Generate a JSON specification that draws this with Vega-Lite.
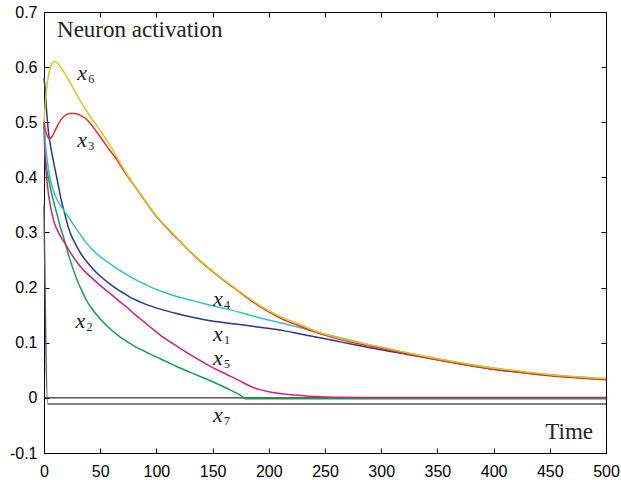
{
  "$schema": "https://vega.github.io/schema/vega-lite/v6.json",
  "width": 562,
  "height": 441,
  "autosize": "none",
  "padding": {"left": 44, "top": 12, "right": 15, "bottom": 27},
  "background": "white",
  "config": {
    "view": {"stroke": "black", "strokeWidth": 1},
    "axis": {
      "grid": false,
      "domainColor": "black",
      "tickColor": "black",
      "labelColor": "black",
      "labelFont": "Liberation Sans",
      "labelFontSize": 16,
      "tickSize": -5,
      "title": null
    }
  },
  "datasets": {
    "lines": [
      {"s":"x7","t":0,"v":0.35},{"s":"x7","t":3.3,"v":-0.011},{"s":"x7","t":500,"v":-0.011},

      {"s":"x2","t":0,"v":0.5},{"s":"x2","t":0.5,"v":0.47},{"s":"x2","t":1,"v":0.447},{"s":"x2","t":2,"v":0.422},{"s":"x2","t":3.8,"v":0.4},{"s":"x2","t":6,"v":0.378},{"s":"x2","t":9.8,"v":0.346},{"s":"x2","t":12,"v":0.33},{"s":"x2","t":14.2,"v":0.312},{"s":"x2","t":17,"v":0.294},{"s":"x2","t":19,"v":0.28},{"s":"x2","t":22,"v":0.258},{"s":"x2","t":25,"v":0.239},{"s":"x2","t":29.4,"v":0.214},{"s":"x2","t":33.5,"v":0.195},{"s":"x2","t":38.3,"v":0.175},{"s":"x2","t":44,"v":0.158},{"s":"x2","t":50,"v":0.143},{"s":"x2","t":59,"v":0.125},{"s":"x2","t":66,"v":0.113},{"s":"x2","t":74,"v":0.102},{"s":"x2","t":81,"v":0.093},{"s":"x2","t":89,"v":0.085},{"s":"x2","t":96,"v":0.078},{"s":"x2","t":103.5,"v":0.071},{"s":"x2","t":118,"v":0.057},{"s":"x2","t":133,"v":0.044},{"s":"x2","t":148,"v":0.031},{"s":"x2","t":163,"v":0.017},{"s":"x2","t":170,"v":0.01},{"s":"x2","t":176,"v":0.003},{"s":"x2","t":179,"v":-0.0015},{"s":"x2","t":500,"v":-0.0015},

      {"s":"x5","t":0,"v":0.5},{"s":"x5","t":0.5,"v":0.46},{"s":"x5","t":1,"v":0.435},{"s":"x5","t":2.3,"v":0.4},{"s":"x5","t":4,"v":0.37},{"s":"x5","t":6,"v":0.345},{"s":"x5","t":8.5,"v":0.322},{"s":"x5","t":11,"v":0.308},{"s":"x5","t":14.5,"v":0.294},{"s":"x5","t":19,"v":0.279},{"s":"x5","t":24,"v":0.262},{"s":"x5","t":29.4,"v":0.246},{"s":"x5","t":35,"v":0.232},{"s":"x5","t":44,"v":0.215},{"s":"x5","t":50,"v":0.204},{"s":"x5","t":59,"v":0.189},{"s":"x5","t":66,"v":0.177},{"s":"x5","t":74,"v":0.164},{"s":"x5","t":81,"v":0.151},{"s":"x5","t":89,"v":0.138},{"s":"x5","t":96,"v":0.126},{"s":"x5","t":103.5,"v":0.114},{"s":"x5","t":118,"v":0.094},{"s":"x5","t":133,"v":0.075},{"s":"x5","t":148,"v":0.057},{"s":"x5","t":163,"v":0.042},{"s":"x5","t":175,"v":0.03},{"s":"x5","t":183.5,"v":0.021},{"s":"x5","t":192,"v":0.015},{"s":"x5","t":200,"v":0.011},{"s":"x5","t":213,"v":0.007},{"s":"x5","t":237,"v":0.003},{"s":"x5","t":263,"v":0.001},{"s":"x5","t":300,"v":0.0008},{"s":"x5","t":500,"v":0.0008},

      {"s":"x1","t":0,"v":0.58},{"s":"x1","t":1,"v":0.56},{"s":"x1","t":2,"v":0.53},{"s":"x1","t":3.8,"v":0.485},{"s":"x1","t":6,"v":0.455},{"s":"x1","t":8.3,"v":0.43},{"s":"x1","t":10.5,"v":0.408},{"s":"x1","t":12.7,"v":0.386},{"s":"x1","t":15,"v":0.362},{"s":"x1","t":18.7,"v":0.332},{"s":"x1","t":22,"v":0.307},{"s":"x1","t":26,"v":0.287},{"s":"x1","t":29.4,"v":0.274},{"s":"x1","t":33,"v":0.261},{"s":"x1","t":36.5,"v":0.251},{"s":"x1","t":41,"v":0.24},{"s":"x1","t":44,"v":0.233},{"s":"x1","t":50,"v":0.221},{"s":"x1","t":59,"v":0.206},{"s":"x1","t":66,"v":0.196},{"s":"x1","t":74,"v":0.186},{"s":"x1","t":80,"v":0.179},{"s":"x1","t":89,"v":0.171},{"s":"x1","t":103.5,"v":0.161},{"s":"x1","t":118,"v":0.153},{"s":"x1","t":133,"v":0.146},{"s":"x1","t":148,"v":0.14},{"s":"x1","t":163,"v":0.136},{"s":"x1","t":178,"v":0.132},{"s":"x1","t":192,"v":0.128},{"s":"x1","t":213,"v":0.122},{"s":"x1","t":228,"v":0.116},{"s":"x1","t":243,"v":0.11},{"s":"x1","t":258,"v":0.104},{"s":"x1","t":272,"v":0.098},{"s":"x1","t":290,"v":0.091},{"s":"x1","t":300,"v":0.0875},{"s":"x1","t":325,"v":0.078},{"s":"x1","t":350,"v":0.069},{"s":"x1","t":375,"v":0.06},{"s":"x1","t":400,"v":0.052},{"s":"x1","t":425,"v":0.046},{"s":"x1","t":450,"v":0.041},{"s":"x1","t":475,"v":0.037},{"s":"x1","t":500,"v":0.034},

      {"s":"x4","t":0,"v":0.5},{"s":"x4","t":1,"v":0.47},{"s":"x4","t":2,"v":0.445},{"s":"x4","t":4,"v":0.415},{"s":"x4","t":6,"v":0.393},{"s":"x4","t":8.5,"v":0.375},{"s":"x4","t":12,"v":0.358},{"s":"x4","t":16,"v":0.345},{"s":"x4","t":20,"v":0.333},{"s":"x4","t":25,"v":0.318},{"s":"x4","t":31,"v":0.3},{"s":"x4","t":37,"v":0.283},{"s":"x4","t":44,"v":0.267},{"s":"x4","t":52,"v":0.253},{"s":"x4","t":59,"v":0.243},{"s":"x4","t":66,"v":0.233},{"s":"x4","t":74,"v":0.223},{"s":"x4","t":81,"v":0.215},{"s":"x4","t":89,"v":0.207},{"s":"x4","t":96,"v":0.2},{"s":"x4","t":103.5,"v":0.194},{"s":"x4","t":118,"v":0.184},{"s":"x4","t":133,"v":0.176},{"s":"x4","t":148,"v":0.168},{"s":"x4","t":163,"v":0.161},{"s":"x4","t":178,"v":0.153},{"s":"x4","t":192,"v":0.145},{"s":"x4","t":213,"v":0.135},{"s":"x4","t":228,"v":0.127},{"s":"x4","t":243,"v":0.119},{"s":"x4","t":258,"v":0.112},{"s":"x4","t":272,"v":0.105},{"s":"x4","t":290,"v":0.096},{"s":"x4","t":300,"v":0.092},{"s":"x4","t":325,"v":0.081},{"s":"x4","t":350,"v":0.071},{"s":"x4","t":375,"v":0.062},{"s":"x4","t":400,"v":0.054},{"s":"x4","t":425,"v":0.047},{"s":"x4","t":450,"v":0.042},{"s":"x4","t":475,"v":0.038},{"s":"x4","t":500,"v":0.035},

      {"s":"x3","t":0,"v":0.5},{"s":"x3","t":2,"v":0.48},{"s":"x3","t":5,"v":0.47},{"s":"x3","t":8,"v":0.477},{"s":"x3","t":12,"v":0.494},{"s":"x3","t":16,"v":0.507},{"s":"x3","t":20,"v":0.514},{"s":"x3","t":23,"v":0.516},{"s":"x3","t":27,"v":0.516},{"s":"x3","t":33,"v":0.512},{"s":"x3","t":38,"v":0.505},{"s":"x3","t":42,"v":0.496},{"s":"x3","t":47,"v":0.482},{"s":"x3","t":53,"v":0.465},{"s":"x3","t":60,"v":0.445},{"s":"x3","t":65,"v":0.432},{"s":"x3","t":70,"v":0.415},{"s":"x3","t":75,"v":0.4},{"s":"x3","t":80,"v":0.386},{"s":"x3","t":90,"v":0.357},{"s":"x3","t":100,"v":0.329},{"s":"x3","t":110,"v":0.307},{"s":"x3","t":118,"v":0.29},{"s":"x3","t":130,"v":0.265},{"s":"x3","t":139,"v":0.248},{"s":"x3","t":150,"v":0.229},{"s":"x3","t":160,"v":0.213},{"s":"x3","t":170,"v":0.198},{"s":"x3","t":183,"v":0.178},{"s":"x3","t":192,"v":0.166},{"s":"x3","t":200,"v":0.156},{"s":"x3","t":213,"v":0.142},{"s":"x3","t":228,"v":0.13},{"s":"x3","t":243,"v":0.118},{"s":"x3","t":258,"v":0.109},{"s":"x3","t":272,"v":0.102},{"s":"x3","t":290,"v":0.094},{"s":"x3","t":300,"v":0.09},{"s":"x3","t":325,"v":0.079},{"s":"x3","t":350,"v":0.069},{"s":"x3","t":375,"v":0.06},{"s":"x3","t":400,"v":0.052},{"s":"x3","t":425,"v":0.046},{"s":"x3","t":450,"v":0.04},{"s":"x3","t":475,"v":0.036},{"s":"x3","t":500,"v":0.033},

      {"s":"x6","t":0,"v":0.5},{"s":"x6","t":1,"v":0.53},{"s":"x6","t":2,"v":0.555},{"s":"x6","t":4,"v":0.585},{"s":"x6","t":6,"v":0.601},{"s":"x6","t":9,"v":0.61},{"s":"x6","t":12,"v":0.607},{"s":"x6","t":15,"v":0.599},{"s":"x6","t":19,"v":0.587},{"s":"x6","t":24,"v":0.569},{"s":"x6","t":28,"v":0.554},{"s":"x6","t":33,"v":0.536},{"s":"x6","t":38,"v":0.52},{"s":"x6","t":42,"v":0.508},{"s":"x6","t":47,"v":0.494},{"s":"x6","t":51,"v":0.482},{"s":"x6","t":55,"v":0.47},{"s":"x6","t":59,"v":0.457},{"s":"x6","t":65,"v":0.436},{"s":"x6","t":70,"v":0.418},{"s":"x6","t":75,"v":0.402},{"s":"x6","t":80,"v":0.387},{"s":"x6","t":90,"v":0.358},{"s":"x6","t":100,"v":0.33},{"s":"x6","t":110,"v":0.308},{"s":"x6","t":118,"v":0.291},{"s":"x6","t":130,"v":0.266},{"s":"x6","t":139,"v":0.249},{"s":"x6","t":150,"v":0.23},{"s":"x6","t":160,"v":0.214},{"s":"x6","t":170,"v":0.199},{"s":"x6","t":183,"v":0.18},{"s":"x6","t":192,"v":0.168},{"s":"x6","t":200,"v":0.158},{"s":"x6","t":213,"v":0.145},{"s":"x6","t":228,"v":0.133},{"s":"x6","t":243,"v":0.12},{"s":"x6","t":258,"v":0.111},{"s":"x6","t":272,"v":0.104},{"s":"x6","t":290,"v":0.096},{"s":"x6","t":300,"v":0.092},{"s":"x6","t":325,"v":0.081},{"s":"x6","t":350,"v":0.071},{"s":"x6","t":375,"v":0.062},{"s":"x6","t":400,"v":0.054},{"s":"x6","t":425,"v":0.048},{"s":"x6","t":450,"v":0.042},{"s":"x6","t":475,"v":0.038},{"s":"x6","t":500,"v":0.035}
    ],
    "labels": [
      {"t": 29.6, "v": 0.577, "sub": "6"},
      {"t": 29.6, "v": 0.456, "sub": "3"},
      {"t": 28.1, "v": 0.127, "sub": "2"},
      {"t": 150.4, "v": 0.167, "sub": "4"},
      {"t": 150.4, "v": 0.104, "sub": "1"},
      {"t": 150.4, "v": 0.059, "sub": "5"},
      {"t": 150.4, "v": -0.044, "sub": "7"}
    ],
    "titles": [
      {"t": 11.6, "v": 0.654, "txt": "Neuron activation"},
      {"t": 446, "v": -0.0743, "txt": "Time"}
    ]
  },
  "layer": [
    {
      "data": {"values": [{"z": 0}]},
      "mark": {"type": "rule", "color": "black", "strokeWidth": 1},
      "encoding": {"y": {"field": "z", "type": "quantitative", "axis": null}}
    },
    {
      "data": {"name": "lines"},
      "mark": {"type": "line", "strokeWidth": 1.5, "interpolate": "monotone"},
      "encoding": {
        "x": {"field": "t", "type": "quantitative",
              "scale": {"domain": [0, 500], "nice": false},
              "axis": {"orient": "bottom", "values": [0,50,100,150,200,250,300,350,400,450,500], "labelPadding": 15, "labelFlush": false}},
        "y": {"field": "v", "type": "quantitative",
              "scale": {"domain": [-0.1, 0.7], "nice": false, "zero": false},
              "axis": {"orient": "left", "values": [-0.1,0,0.1,0.2,0.3,0.4,0.5,0.6,0.7], "labelPadding": 12, "labelFlush": false,
                       "labelExpr": "datum.value < -0.01 ? '-0.1' : (abs(datum.value) < 0.001 ? '0' : format(datum.value, '.1f'))"}},
        "color": {"field": "s", "type": "nominal",
                  "scale": {"domain": ["x1","x2","x3","x4","x5","x6","x7"],
                            "range": ["#2c3591","#12a04a","#ee2a24","#31c3c3","#cc1e8e","#dcc51c","#525a58"]},
                  "legend": null}
      }
    },
    {
      "data": {"name": "labels"},
      "mark": {"type": "text", "font": "Liberation Serif", "fontStyle": "italic", "fontSize": 22, "align": "left", "baseline": "alphabetic", "color": "#222"},
      "encoding": {
        "x": {"field": "t", "type": "quantitative",
              "axis": {"orient": "top", "labels": false, "values": [0,50,100,150,200,250,300,350,400,450,500]}},
        "y": {"field": "v", "type": "quantitative",
              "axis": {"orient": "right", "labels": false, "values": [-0.1,0,0.1,0.2,0.3,0.4,0.5,0.6,0.7]}},
        "text": {"value": "x"}
      }
    },
    {
      "data": {"name": "labels"},
      "mark": {"type": "text", "font": "Liberation Serif", "fontSize": 12, "align": "left", "baseline": "alphabetic", "dx": 11, "dy": 3, "color": "#222"},
      "encoding": {
        "x": {"field": "t", "type": "quantitative", "axis": null},
        "y": {"field": "v", "type": "quantitative", "axis": null},
        "text": {"field": "sub"}
      }
    },
    {
      "data": {"name": "titles"},
      "mark": {"type": "text", "font": "Liberation Serif", "fontSize": 23, "align": "left", "baseline": "alphabetic", "color": "#222"},
      "encoding": {
        "x": {"field": "t", "type": "quantitative", "axis": null},
        "y": {"field": "v", "type": "quantitative", "axis": null},
        "text": {"field": "txt"}
      }
    }
  ],
  "resolve": {"axis": {"x": "independent", "y": "independent"}}
}
